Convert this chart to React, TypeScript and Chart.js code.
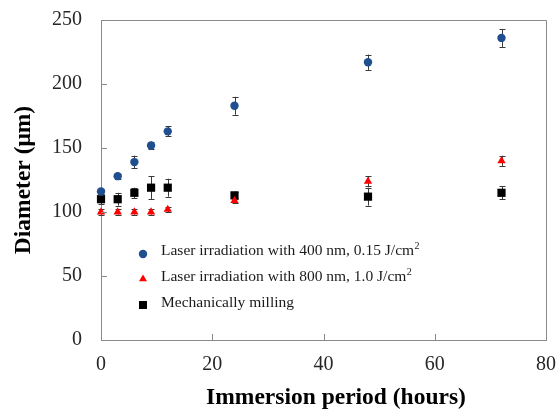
import React, { useEffect, useRef } from "react";
import { Chart, registerables } from "chart.js";

Chart.register(...registerables);

const hours = [0, 3, 6, 9, 12, 24, 48, 72];
const laser400 = [116, 128, 139, 152, 163, 183, 217, 236];
const laser400Err = [2, 2, 5, 3, 4, 7, 6, 7];
const laser800 = [100, 100, 100, 100, 102, 109, 124, 140];
const laser800Err = [2, 2, 2, 2, 2, 2, 4, 4];
const milling = [110, 110, 115, 119, 119, 113, 112, 115];
const millingErr = [4, 5, 4, 9, 7, 3, 7, 5];

const seriesNames = [
  "Laser irradiation with 400 nm, 0.15 J/cm",
  "Laser irradiation with 800 nm, 1.0 J/cm",
  "Mechanically milling",
];
const seriesSup = ["2", "2", ""];
const xTicks = [0, 20, 40, 60, 80];
const yTicks = [0, 50, 100, 150, 200, 250];
const xTitle = "Immersion period (hours)";
const yTitle = "Diameter (μm)";

const BLUE = "#1f4f8f";
const RED = "#ff0000";
const BLACK = "#000000";
const AXIS = "#8a8a8a";
const SERIF = "'Liberation Serif', 'Times New Roman', serif";

function drawMarker(ctx: CanvasRenderingContext2D, style: string, x: number, y: number, color: string) {
  ctx.save();
  ctx.fillStyle = color;
  ctx.beginPath();
  if (style === "circle") {
    ctx.arc(x, y, 4.2, 0, Math.PI * 2);
  } else if (style === "triangle") {
    const r = 4.6;
    ctx.moveTo(x, y - r);
    ctx.lineTo(x + r * 0.866, y + r * 0.5);
    ctx.lineTo(x - r * 0.866, y + r * 0.5);
    ctx.closePath();
  } else {
    ctx.rect(x - 4, y - 4, 8, 8);
  }
  ctx.fill();
  ctx.restore();
}

const frameAndExtras = {
  id: "frameAndExtras",
  beforeDatasetsDraw(chart: any) {
    const { ctx } = chart;
    const xs = chart.scales.x;
    const ys = chart.scales.y;
    const errs = [laser400Err, laser800Err, millingErr];
    ctx.save();
    ctx.strokeStyle = "#3a3a3a";
    ctx.lineWidth = 1;
    chart.data.datasets.forEach((ds: any, i: number) => {
      ds.data.forEach((p: any, j: number) => {
        const e = errs[i][j];
        const px = Math.round(xs.getPixelForValue(p.x)) + 0.5;
        const y1 = ys.getPixelForValue(p.y + e);
        const y2 = ys.getPixelForValue(p.y - e);
        ctx.beginPath();
        ctx.moveTo(px, y1);
        ctx.lineTo(px, y2);
        ctx.moveTo(px - 3, Math.round(y1) + 0.5);
        ctx.lineTo(px + 3, Math.round(y1) + 0.5);
        ctx.moveTo(px - 3, Math.round(y2) + 0.5);
        ctx.lineTo(px + 3, Math.round(y2) + 0.5);
        ctx.stroke();
      });
    });
    ctx.restore();
  },
  afterDraw(chart: any) {
    const { ctx, chartArea } = chart;
    const xs = chart.scales.x;
    const ys = chart.scales.y;
    const { left, right, top, bottom } = chartArea;
    ctx.save();
    ctx.strokeStyle = AXIS;
    ctx.lineWidth = 1;
    ctx.beginPath();
    ctx.moveTo(Math.round(left) + 0.5, Math.round(top) + 0.5);
    ctx.lineTo(Math.round(right) + 0.5, Math.round(top) + 0.5);
    ctx.lineTo(Math.round(right) + 0.5, Math.round(bottom) + 0.5);
    ctx.stroke();
    // inward tick marks
    ctx.beginPath();
    xTicks.forEach((v) => {
      if (v === xTicks[0] || v === xTicks[xTicks.length - 1]) return;
      const px = Math.round(xs.getPixelForValue(v)) + 0.5;
      ctx.moveTo(px, bottom);
      ctx.lineTo(px, bottom - 6);
    });
    yTicks.forEach((v) => {
      if (v === yTicks[0] || v === yTicks[yTicks.length - 1]) return;
      const py = Math.round(ys.getPixelForValue(v)) + 0.5;
      ctx.moveTo(left, py);
      ctx.lineTo(left + 6, py);
    });
    ctx.stroke();

    // x axis title (slightly right of centre, as in the source figure)
    ctx.fillStyle = "#000";
    ctx.font = `bold 23.5px ${SERIF}`;
    ctx.textAlign = "center";
    ctx.textBaseline = "middle";
    ctx.fillText(xTitle, 336, 398);

    // legend
    const styles = ["circle", "triangle", "rect"];
    const colors = [BLUE, RED, BLACK];
    const rowsY = [251, 277, 303];
    const markerY = [254, 279, 305];
    ctx.textBaseline = "middle";
    ctx.textAlign = "left";
    seriesNames.forEach((name, i) => {
      drawMarker(ctx, styles[i], 143, markerY[i], colors[i]);
      ctx.fillStyle = "#1a1a1a";
      ctx.font = `15.5px ${SERIF}`;
      ctx.fillText(name, 161, rowsY[i]);
      if (seriesSup[i]) {
        const w = ctx.measureText(name).width;
        ctx.font = `10px ${SERIF}`;
        ctx.fillText(seriesSup[i], 161 + w + 0.5, rowsY[i] - 5);
      }
    });
    ctx.restore();
  },
};

export default function App() {
  const ref = useRef<HTMLCanvasElement | null>(null);
  useEffect(() => {
    if (!ref.current) return;
    const mk = (ys: number[]) => hours.map((h, i) => ({ x: h, y: ys[i] }));
    const chart = new Chart(ref.current, {
      type: "scatter",
      data: {
        datasets: [
          {
            label: seriesNames[0] + seriesSup[0],
            data: mk(laser400),
            pointStyle: "circle",
            pointRadius: 4.2,
            backgroundColor: BLUE,
            borderColor: BLUE,
            borderWidth: 0,
            clip: false,
          },
          {
            label: seriesNames[1] + seriesSup[1],
            data: mk(laser800),
            pointStyle: "triangle",
            pointRadius: 4.8,
            backgroundColor: RED,
            borderColor: RED,
            borderWidth: 0,
            clip: false,
          },
          {
            label: seriesNames[2],
            data: mk(milling),
            pointStyle: "rect",
            pointRadius: 5.8,
            backgroundColor: BLACK,
            borderColor: BLACK,
            borderWidth: 0,
            clip: false,
          },
        ],
      },
      plugins: [frameAndExtras],
      options: {
        responsive: false,
        animation: false,
        layout: { padding: { left: 0, right: 10, top: 20, bottom: 0 } },
        plugins: {
          legend: { display: false },
          tooltip: { enabled: false },
        },
        scales: {
          x: {
            type: "linear",
            min: 0,
            max: 80,
            afterFit: (s: any) => {
              s.height = 70;
              s.paddingLeft = 0;
              s.paddingRight = 0;
            },
            afterBuildTicks: (s: any) => {
              s.ticks = xTicks.map((v) => ({ value: v }));
            },
            grid: { display: false },
            border: { display: true, color: AXIS, width: 1 },
            ticks: {
              padding: 5,
              color: "#262626",
              font: { family: SERIF, size: 20 },
              maxRotation: 0,
            },
            title: { display: false, text: xTitle },
          },
          y: {
            type: "linear",
            min: 0,
            max: 250,
            afterFit: (s: any) => {
              s.width = 101;
              s.paddingTop = 0;
              s.paddingBottom = 0;
            },
            afterBuildTicks: (s: any) => {
              s.ticks = yTicks.map((v) => ({ value: v }));
            },
            grid: { display: false },
            border: { display: true, color: AXIS, width: 1 },
            ticks: {
              padding: 11,
              color: "#262626",
              font: { family: SERIF, size: 20 },
            },
            title: {
              display: true,
              text: yTitle,
              color: "#000",
              font: { family: SERIF, size: 23.5, weight: "bold", lineHeight: 1 },
              padding: { top: 12, bottom: 0 },
            },
          },
        },
      },
    } as any);
    return () => chart.destroy();
  }, []);
  return (
    <div style={{ position: "fixed", left: 0, top: 0, width: 556, height: 410, background: "#fff" }}>
      <canvas ref={ref} width={556} height={410} style={{ width: 556, height: 410, display: "block" }} />
    </div>
  );
}
